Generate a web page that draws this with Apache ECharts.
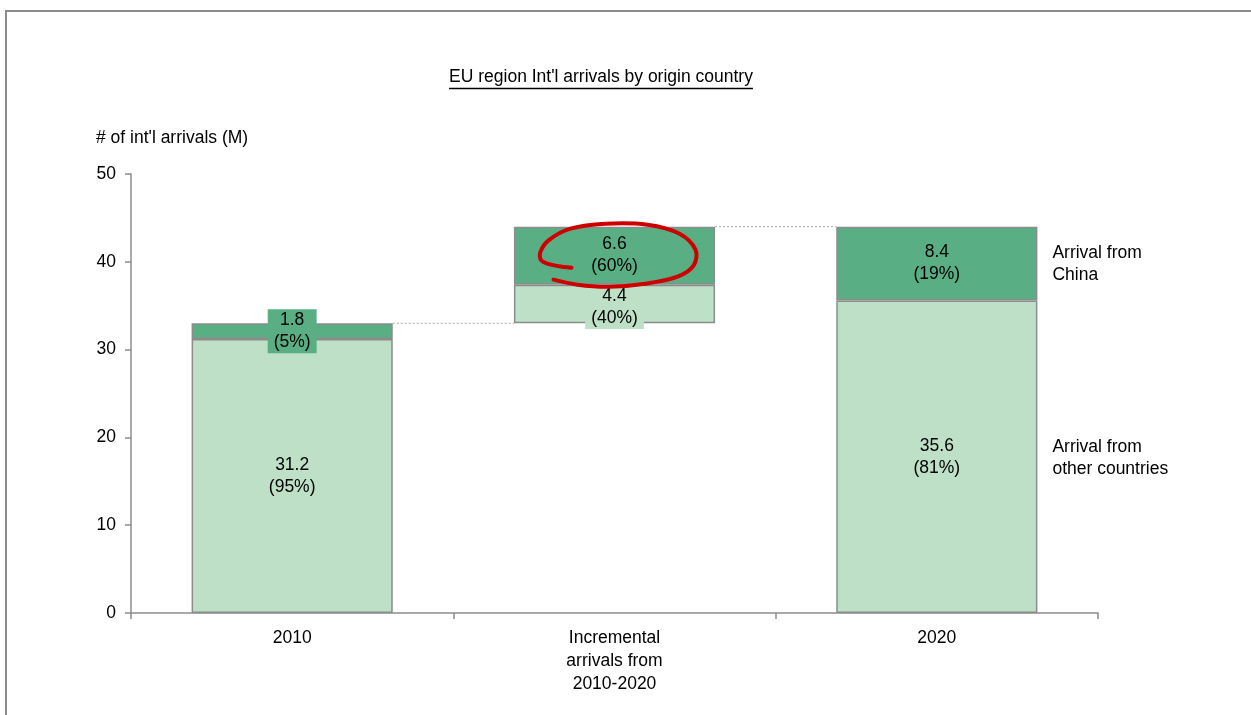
<!DOCTYPE html>
<html>
<head>
<meta charset="utf-8">
<script src="https://cdn.jsdelivr.net/npm/echarts@6/dist/echarts.min.js"></script>
<style>
  html, body { margin: 0; padding: 0; background: #ffffff; }
  #chart { width: 1251px; height: 715px; }
</style>
</head>
<body>
<div id="chart"></div>
<script>
// Waterfall of international arrivals (millions), split by origin
const categories = ['2010', 'Incremental\narrivals from\n2010-2020', '2020'];
const otherValues = [31.2, 4.4, 35.6];
const chinaValues = [1.8, 6.6, 8.4];
const otherShares = [95, 40, 81];
const chinaShares = [5, 60, 19];
const yMin = 0;
const yMax = 50;
const yStep = 10;
const titleText = "EU region Int'l arrivals by origin country";
const yAxisTitle = "# of int'l arrivals (M)";
const sideNotes = ['Arrival from\nChina', 'Arrival from\nother countries'];

const FONT = '"Liberation Sans", Arial, Helvetica, sans-serif';
const FONT_SIZE = 17.5;
const LIGHT = '#bde0c6';
const DARK = '#5aae83';
const EDGE = '#8c8c8c';
const BAR_FRAC = 0.624;

// Floating base for the middle (incremental) column
const total2010 = otherValues[0] + chinaValues[0];
const total2020Level = total2010 + otherValues[1] + chinaValues[1];
const baseValues = [0, total2010, 0];

// Hand-drawn loop around the highlighted share (pixel offsets from the segment centre)
const loopShape = [
  [-46, 12], [-62, 10], [-76, 5], [-77, -4], [-68, -16], [-47, -27], [-12, -32],
  [30, -31], [62, -22], [78, -6], [76, 10], [60, 21], [28, 28], [-8, 31],
  [-40, 29], [-64, 24]
];

const chart = echarts.init(document.getElementById('chart'), null, { renderer: 'canvas' });

const ctx = document.createElement('canvas').getContext('2d');
ctx.font = FONT_SIZE + 'px ' + FONT;
const titleWidth = ctx.measureText(titleText).width;

function barLabel(values, shares, bg) {
  return {
    show: true,
    position: 'inside',
    color: '#000',
    fontFamily: FONT,
    fontSize: FONT_SIZE,
    lineHeight: 22,
    backgroundColor: bg,
    padding: [0, 6],
    formatter: p => values[p.dataIndex] + '\n(' + shares[p.dataIndex] + '%)'
  };
}

const textStyleBase = { fill: '#000', font: FONT_SIZE + 'px ' + FONT };

// The small "other countries" share of the incremental column sits slightly low
const otherData = otherValues.map((v, i) =>
  i === 1 ? { value: v, label: { offset: [0, 3] } } : v);

chart.setOption({
  animation: false,
  backgroundColor: '#ffffff',
  grid: { left: 131, right: 153, top: 174, bottom: 102 },
  graphic: [
    {
      type: 'rect', silent: true, z: -10,
      shape: { x: 6, y: 11, width: 1400, height: 900 },
      style: { fill: 'none', stroke: EDGE, lineWidth: 2 }
    },
    {
      type: 'text', x: 601, y: 77,
      style: Object.assign({}, textStyleBase, {
        text: titleText, align: 'center', textAlign: 'center',
        verticalAlign: 'middle', textVerticalAlign: 'middle'
      })
    },
    {
      type: 'line',
      shape: { x1: 601 - titleWidth / 2, y1: 88.5, x2: 601 + titleWidth / 2, y2: 88.5 },
      style: { stroke: '#000', lineWidth: 1.4 }
    },
    {
      type: 'text', x: 96, y: 138,
      style: Object.assign({}, textStyleBase, {
        text: yAxisTitle, align: 'left', textAlign: 'left',
        verticalAlign: 'middle', textVerticalAlign: 'middle'
      })
    }
  ],
  xAxis: {
    type: 'category',
    data: categories,
    boundaryGap: true,
    axisLine: { show: true, lineStyle: { color: EDGE, width: 1.5 } },
    axisTick: { show: true, length: 6, alignWithLabel: false, lineStyle: { color: EDGE, width: 1.5 } },
    axisLabel: { color: '#000', fontFamily: FONT, fontSize: FONT_SIZE, lineHeight: 23, margin: 14, interval: 0 },
    splitLine: { show: false }
  },
  yAxis: {
    type: 'value',
    min: yMin, max: yMax, interval: yStep,
    axisLine: { show: true, lineStyle: { color: EDGE, width: 1.5 } },
    axisTick: { show: true, length: 6, lineStyle: { color: EDGE, width: 1.5 } },
    axisLabel: { color: '#000', fontFamily: FONT, fontSize: FONT_SIZE, margin: 15 },
    splitLine: { show: false }
  },
  series: [
    {
      name: 'base', type: 'bar', stack: 'w', silent: true,
      barWidth: (BAR_FRAC * 100) + '%',
      data: baseValues,
      itemStyle: { color: 'rgba(0,0,0,0)', borderWidth: 0 },
      emphasis: { disabled: true }
    },
    {
      name: 'Arrival from other countries', type: 'bar', stack: 'w',
      barWidth: (BAR_FRAC * 100) + '%',
      data: otherData,
      itemStyle: { color: LIGHT, borderColor: EDGE, borderWidth: 1.5 },
      label: barLabel(otherValues, otherShares, LIGHT),
      emphasis: { disabled: true }
    },
    {
      name: 'Arrival from China', type: 'bar', stack: 'w',
      barWidth: (BAR_FRAC * 100) + '%',
      data: chinaValues,
      itemStyle: { color: DARK, borderColor: EDGE, borderWidth: 1.5 },
      label: barLabel(chinaValues, chinaShares, DARK),
      emphasis: { disabled: true }
    },
    {
      // dotted connectors between consecutive column tops
      name: 'connectors', type: 'custom', silent: true, z: 5,
      data: [[0, total2010], [1, total2020Level]],
      renderItem: (params, api) => {
        const c = api.coord([api.value(0), api.value(1)]);
        const w = api.size([1, 0])[0];
        const half = w * BAR_FRAC / 2;
        return {
          type: 'line',
          shape: { x1: c[0] + half, y1: c[1], x2: c[0] + w - half, y2: c[1] },
          style: { stroke: '#a6a6a6', lineWidth: 1, lineDash: [2, 2] }
        };
      }
    },
    {
      // notes beside the 2020 column
      name: 'notes', type: 'custom', silent: true, z: 5,
      data: [[2, otherValues[2] + chinaValues[2] / 2], [2, otherValues[2] / 2]],
      renderItem: (params, api) => {
        const c = api.coord([api.value(0), api.value(1)]);
        const w = api.size([1, 0])[0];
        return {
          type: 'text',
          style: Object.assign({}, textStyleBase, {
            text: sideNotes[params.dataIndex],
            x: c[0] + w * BAR_FRAC / 2 + 15, y: c[1] + 1,
            align: 'left', textAlign: 'left',
            verticalAlign: 'middle', textVerticalAlign: 'middle',
            lineHeight: 22
          })
        };
      }
    },
    {
      // red loop highlighting China's share of the growth
      name: 'highlight', type: 'custom', silent: true, z: 10,
      data: [[1, total2010 + otherValues[1] + chinaValues[1] / 2]],
      renderItem: (params, api) => {
        const c = api.coord([api.value(0), api.value(1)]);
        return {
          type: 'polyline',
          shape: { points: loopShape.map(p => [c[0] + 3 + p[0], c[1] + p[1]]), smooth: 0.35 },
          style: { stroke: '#cc0000', fill: null, lineWidth: 4, lineCap: 'round', lineJoin: 'round' }
        };
      }
    }
  ]
});
</script>
</body>
</html>
